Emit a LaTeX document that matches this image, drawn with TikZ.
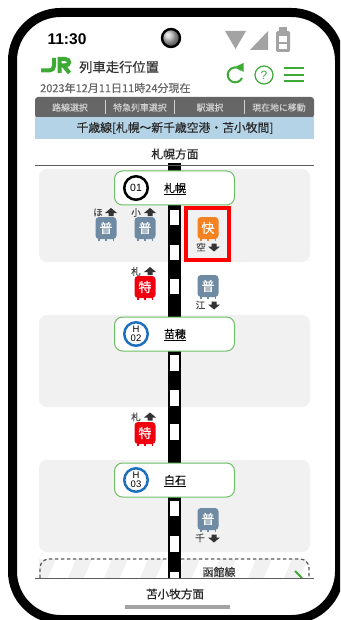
\documentclass[tikz,border=0pt]{standalone}
\usepackage{fontspec}
\setmainfont{Liberation Sans}
\newfontfamily\jp[FakeBold=0.35]{Noto Sans CJK JP}
\usetikzlibrary{shadings}
\definecolor{jrgreen}{HTML}{3DAA35}
\definecolor{barg}{HTML}{666666}
\definecolor{band}{HTML}{B5D3E6}
\definecolor{zone}{HTML}{F1F1F1}
\definecolor{fut}{HTML}{6F8AA3}
\definecolor{kai}{HTML}{F58220}
\definecolor{toku}{HTML}{F0000F}
\definecolor{ico}{HTML}{A3A3A3}
\definecolor{ink}{HTML}{333333}
\definecolor{hblue}{HTML}{1F6FBF}
\tikzset{
 x=1pt,y=-1pt,
 lbl/.style={inner sep=0pt,font=\jp,text=ink},
 stationbox/.style={draw=jrgreen!75,line width=1pt,fill=white,rounded corners=8pt,minimum width=120pt,minimum height=34pt,inner sep=0pt},
 numring/.style={circle,draw=#1,fill=white,line width=2.5pt,minimum size=23.5pt,inner sep=0pt,font=\fontsize{10.5}{10.5}\selectfont,align=center,text=black},
 zonebox/.style={fill=zone,rounded corners=8pt},
 trainbox/.style={fill=#1,rounded corners=3.5pt,minimum width=21pt,minimum height=22pt,inner sep=0pt,text=white,font=\jp\fontsize{13}{13}\selectfont},
 dirlbl/.style={lbl,font=\jp\fontsize{9.5}{10}\selectfont,text=ink!90},
 tabtxt/.style={lbl,text=white!82!black,font=\jp\fontsize{8.9}{9}\selectfont},
 stnname/.style={lbl,font=\jp\fontsize{11}{11}\selectfont,text=black},
 headtxt/.style={lbl,font=\jp\fontsize{11.8}{12}\selectfont,text=black!85},
}
\newcommand{\arrU}[2]{\fill[ink] (#1-6,#2+0.5) -- (#1,#2-4.5) -- (#1+6,#2+0.5) -- (#1+2.5,#2+0.5) -- (#1+2.5,#2+3.5) -- (#1-2.5,#2+3.5) -- (#1-2.5,#2+0.5) -- cycle;}
\newcommand{\arrD}[2]{\fill[ink] (#1-6,#2-0.5) -- (#1,#2+4.5) -- (#1+6,#2-0.5) -- (#1+2.5,#2-0.5) -- (#1+2.5,#2-3.5) -- (#1-2.5,#2-3.5) -- (#1-2.5,#2-0.5) -- cycle;}
\newcommand{\trn}[5]{%
 \fill[#4] (#2-8,#3+9) rectangle (#2-6.5,#3+12.5);
 \fill[#4] (#2-1,#3+9) rectangle (#2+1,#3+12.5);
 \fill[#4] (#2+6.5,#3+9) rectangle (#2+8,#3+12.5);
 \node[trainbox=#4] (#1) at (#2,#3) {#5};
}
\begin{document}
\begin{tikzpicture}
\useasboundingbox (0,0) rectangle (340,620);
\fill[white] (0,0) rectangle (340,620);
\begin{scope}
\clip (0,0) rectangle (340,620);
% zones
\fill[zonebox] (39,169) rectangle (310,262);
\fill[zonebox] (39,315) rectangle (310,407);
\fill[zonebox] (39,460) rectangle (310,552);
% stripes + dashed Hakodate block
\begin{scope}
\clip (39,559) rectangle (309,578);
\fill[zone] (39,559) rectangle (309,578);
\foreach \s in {0,1,...,7}{
 \fill[white] ({48+\s*36},578) -- ({56+\s*36},559) -- ({76+\s*36},559) -- ({68+\s*36},578) -- cycle;
}
\end{scope}
\draw[ink!80,line width=1.2pt,dash pattern=on 3.5pt off 2.5pt,rounded corners=9pt] (40,578) -- (40,559) -- (309,559) -- (309,578);
% track
\fill[black] (168,163) rectangle (181,578);
\foreach \y/\h in {210/15,245/15,279/15,355/16,390/16,424/16,501/15,536/16,572/6}{
 \fill[white] (170,\y) rectangle (179,\y+\h);
}
% header
\node[lbl,font=\bfseries\fontsize{15.5}{16}\selectfont,text=black] (clock) at (67,39.5) {11:30};
\shade[ball color=gray!55] (171,38) circle (9);
\draw[black,line width=2.4pt] (171,38) circle (9);
\fill[ico] (225,31) -- (246,31) -- (235.5,49) -- cycle;
\fill[ico] (250,50) -- (268,31) -- (268,50) -- cycle;
\fill[ico,rounded corners=1.5pt] (276,31) rectangle (290,52);
\fill[ico] (279,27) rectangle (287,32);
\fill[white] (279,36) rectangle (287,42);
\fill[white] (279,44) rectangle (287,49);
% JR logo
\draw[jrgreen,line width=4pt] (54,58) -- (54,66) arc[start angle=0,end angle=90,radius=4.5] -- (41,70.5);
\draw[jrgreen,line width=4pt] (59.5,73) -- (59.5,59) -- (65,59) .. controls (70.5,59) and (70.5,65.5) .. (65,65.5) -- (61,65.5);
\draw[jrgreen,line width=4pt] (63,65) -- (69.5,73);
\node[lbl,anchor=west,font=\jp\fontsize{13.3}{14}\selectfont] (title) at (79,67) {列車走行位置};
\node[lbl,anchor=west,font=\jp\fontsize{11}{11}\selectfont,text=ink!75] (stamp) at (40,88) {2023年12月11日11時24分現在};
% action icons
\draw[jrgreen,line width=2pt] (242,78) arc[start angle=25,end angle=320,radius=7.5];
\fill[jrgreen] (236,66.5) -- (243.5,63) -- (243.5,72) -- cycle;
\node[circle,draw=jrgreen,line width=1.2pt,minimum size=18pt,inner sep=0pt,text=jrgreen,font=\fontsize{12}{12}\selectfont] (help) at (264,75) {?};
\foreach \y in {68,75,81}{\draw[jrgreen,line width=1.7pt] (284,\y) -- (304,\y);}
% tab bar
\fill[barg,rounded corners=3pt] (35,97) rectangle (314,118);
\foreach \x in {105,174,244}{\draw[white!70!barg,line width=.5pt] (\x,100) -- (\x,114);}
\node[tabtxt] (t1) at (70,107.5) {路線選択};
\node[tabtxt] (t2) at (140,107.5) {特急列車選択};
\node[tabtxt] (t3) at (210,107.5) {駅選択};
\node[tabtxt] (t4) at (279,107.5) {現在地に移動};
\fill[band] (35,117) rectangle (314,139);
\node[headtxt] (route) at (175,128) {千歳線[札幌〜新千歳空港・苫小牧間]};
\node[headtxt] (north) at (175,154) {札幌方面};
\draw[ink!80,line width=1pt] (35,165.5) -- (314,165.5);
% stations
\node[stationbox] (s1) at (174.5,188) {};
\node[numring=black] (n1) at (136,188) {01};
\node[stnname] (l1) at (175,189) {\underline{札幌}};
\node[stationbox] (s2) at (174.5,334) {};
\node[numring=hblue,font=\fontsize{9.5}{9.5}\selectfont] (n2) at (136,334) {H\\[-1pt]02};
\node[stnname] (l2) at (175,335) {\underline{苗穂}};
\node[stationbox] (s3) at (174.5,480) {};
\node[numring=hblue,font=\fontsize{9.5}{9.5}\selectfont] (n3) at (136,480) {H\\[-1pt]03};
\node[stnname] (l3) at (175,481) {\underline{白石}};
% trains
\node[dirlbl] (d1) at (98,212.5) {ほ};\arrU{111}{212.5}
\trn{a1}{106}{228}{fut}{普}
\node[dirlbl] (d2) at (136,212.5) {小};\arrU{150}{212.5}
\trn{a2}{145}{228}{fut}{普}
\trn{a3}{208}{228}{kai}{快}
\node[dirlbl] (d3) at (201,247) {空};\arrD{214}{247}
\node[dirlbl] (d4) at (136,271.5) {札};\arrU{150}{271.5}
\trn{a4}{145}{287}{toku}{特}
\trn{a5}{208}{286}{fut}{普}
\node[dirlbl] (d5) at (200.5,305) {江};\arrD{214}{305}
\node[dirlbl] (d6) at (136,417) {札};\arrU{150}{417}
\trn{a6}{145}{433}{toku}{特}
\trn{a7}{208}{519}{fut}{普}
\node[dirlbl] (d7) at (200,538) {千};\arrD{214}{538}
% red highlight
\draw[red,line width=4pt] (186,208) rectangle (229,260);
% bottom
\draw[jrgreen,line width=2pt] (295,571) -- (302,578);
\node[lbl,font=\jp\fontsize{11}{11}\selectfont,text=black!80] (hako) at (219,572) {函館線};
\fill[white] (35,579) rectangle (314,600);
\draw[ink!80,line width=1pt] (35,578) -- (314,578);
\node[headtxt,font=\jp\fontsize{11.6}{12}\selectfont] (south) at (175,594) {苫小牧方面};
\fill[ico] (125,605) rectangle (229.5,609);
% phone
\draw[black,line width=9pt,rounded corners=48pt] (12.5,12.5) -- (339.5,12.5) -- (339.5,619.5) -- (12.5,619.5) -- cycle;
\end{scope}
\end{tikzpicture}
\end{document}
